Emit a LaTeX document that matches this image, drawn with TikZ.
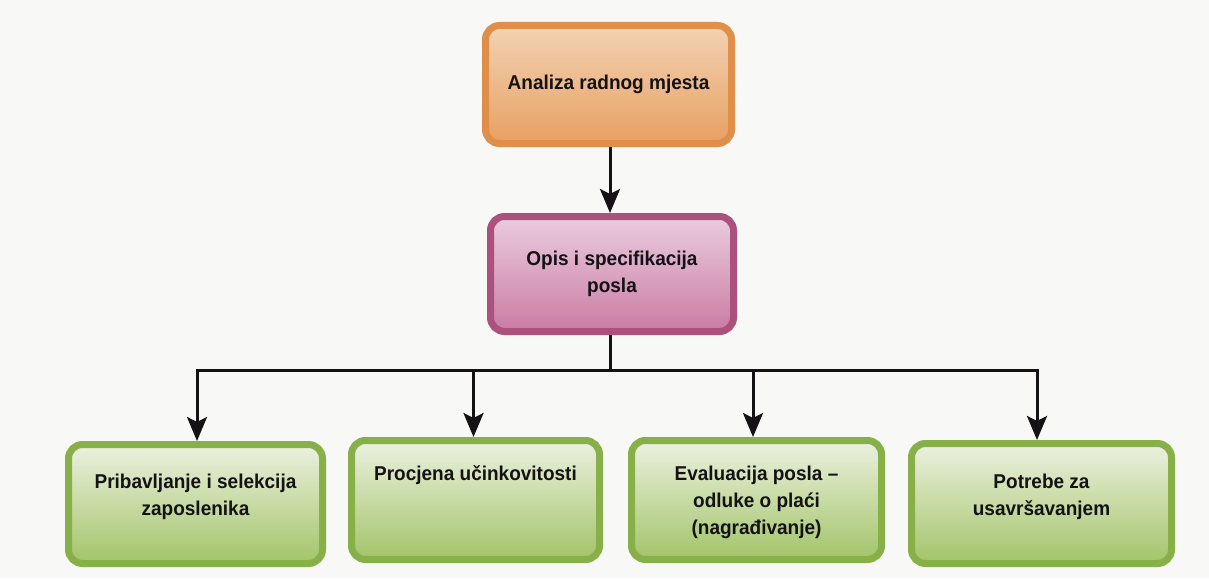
\documentclass[tikz,border=0pt]{standalone}
\usepackage{fontspec}
\setmainfont{Liberation Sans}[FakeStretch=0.95]
\usetikzlibrary{arrows.meta,calc}
\definecolor{paper}{RGB}{248,248,246}
\definecolor{orborder}{RGB}{224,143,74}
\definecolor{ortop}{RGB}{242,210,180}
\definecolor{orbot}{RGB}{232,160,98}
\definecolor{puborder}{RGB}{172,80,125}
\definecolor{putop}{RGB}{234,204,222}
\definecolor{pubot}{RGB}{202,124,164}
\definecolor{grborder}{RGB}{136,176,72}
\definecolor{grtop}{RGB}{236,241,224}
\definecolor{grbot}{RGB}{162,196,104}
\definecolor{ink}{RGB}{20,18,20}
\tikzset{
  boxbase/.style={rounded corners=14pt, line width=7pt, inner sep=0pt},
  orbox/.style={boxbase, draw=orborder, top color=ortop, bottom color=orbot},
  pubox/.style={boxbase, draw=puborder, top color=putop, bottom color=pubot},
  grbox/.style={boxbase, draw=grborder, top color=grtop, bottom color=grbot},
  lbl/.style={font=\bfseries\fontsize{20}{27}\selectfont, text=ink, align=center, inner sep=0pt},
  arr/.style={draw=ink, line width=3pt, -{Stealth[length=24pt,width=20pt,inset=5pt]}},
  conn/.style={draw=ink, line width=3pt}
}
\begin{document}
\begin{tikzpicture}[x=1pt,y=-1pt]
\fill[paper] (0,0) rectangle (1209,578);
\useasboundingbox (0,0) rectangle (1209,578);

\node[orbox, minimum width=246pt, minimum height=118pt] (top) at (608.5,84.5) {};
\node[lbl] (ttop) at (top.center) {Analiza radnog mjesta};

\node[pubox, minimum width=243pt, minimum height=115pt] (mid) at (612,274) {};
\node[lbl] (tmid) at (mid.center) {Opis i specifikacija\\posla};

\node[grbox, minimum width=254pt, minimum height=119pt] (b1) at (195.5,504) {};
\node[grbox, minimum width=248pt, minimum height=119pt] (b2) at (475.5,500) {};
\node[grbox, minimum width=250pt, minimum height=119pt] (b3) at (756.5,500) {};
\node[grbox, minimum width=260pt, minimum height=120pt] (b4) at (1041.5,503.5) {};

\node[lbl, anchor=north] (t1) at (195.5,474) {Pribavljanje i selekcija\\zaposlenika};
\node[lbl, anchor=north] (t2) at (475.5,465) {Procjena učinkovitosti};
\node[lbl, anchor=north] (t3) at (756.5,466) {Evaluacija posla –\\odluke o plaći\\(nagrađivanje)};
\node[lbl, anchor=north] (t4) at (1041.5,474) {Potrebe za\\usavršavanjem};

\draw[arr] ([xshift=1.5pt]top.south) -- ([xshift=1.5pt]top.south |- mid.north);

\coordinate (bus) at (610,370);
\draw[conn] (mid.south -| bus) -- (bus);
\draw[arr] (bus) -| ([xshift=1.5pt]b1.north);
\draw[arr] (bus) -| ([xshift=-2pt]b2.north);
\draw[arr] (bus) -| ([xshift=-3.5pt]b3.north);
\draw[arr] (bus) -| ([xshift=-4.5pt]b4.north);
\end{tikzpicture}
\end{document}
